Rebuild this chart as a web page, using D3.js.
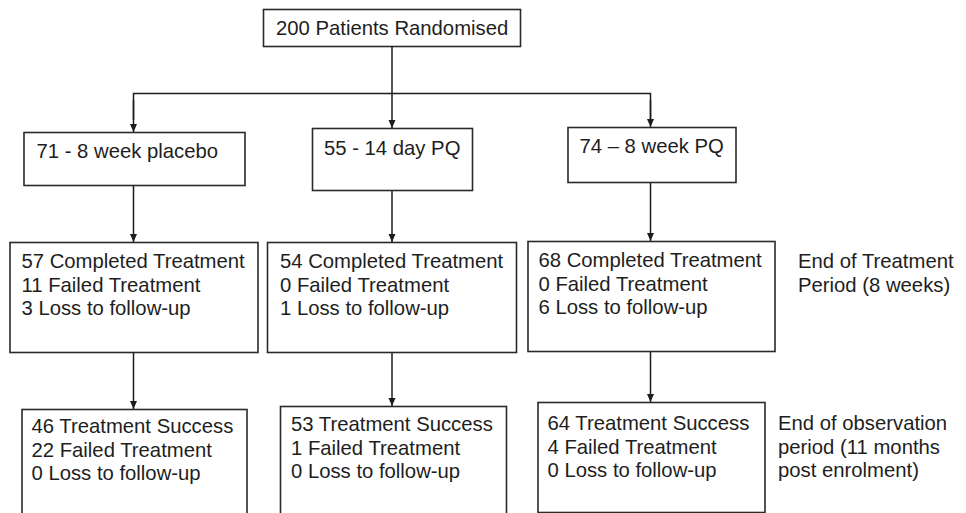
<!DOCTYPE html>
<html>
<head>
<meta charset="utf-8">
<script src="https://cdn.jsdelivr.net/npm/d3@7"></script>
<style>
  body { margin: 0; background: #fff; }
  text { font-family: "Liberation Sans", Arial, sans-serif; font-size: 20.3px; fill: #1e1e1e; }
</style>
</head>
<body>
<script>
// data
var total = 200;
var arms = ["71 - 8 week placebo", "55 - 14 day PQ", "74 \u2013 8 week PQ"];
var treatLabels = ["Completed Treatment", "Failed Treatment", "Loss to follow-up"];
var treatCounts = [[57, 11, 3], [54, 0, 1], [68, 0, 6]];
var obsLabels = ["Treatment Success", "Failed Treatment", "Loss to follow-up"];
var obsCounts = [[46, 22, 0], [53, 1, 0], [64, 4, 0]];
var stageNotes = [["End of Treatment", "Period (8 weeks)"], ["End of observation", "period (11 months", "post enrolment)"]];

// layout
var width = 966, height = 513;
var lineH = 23.5;
var x = d3.scalePoint().domain(arms).range([133.5, 650.5]);

// boxes per row, relative to column centre: [left, right, top, bottom, text pad, baseline]
var row1 = [[-110, 111, 132, 185, 13, 158], [-80, 80, 128, 190, 12, 155], [-83, 85, 127, 182, 12, 153]];
var row2 = [[-124, 124, 242, 352, 12, 268], [-125, 124, 242, 352, 13, 268], [-123, 124, 241, 351, 11, 267]];
var row3 = [[-112, 113, 409, 520, 10, 433], [-112, 114, 406, 520, 11, 431], [-113, 114, 402, 512, 10, 430]];

var svg = d3.select("body").append("svg")
    .attr("width", width)
    .attr("height", height);

svg.append("defs").append("marker")
    .attr("id", "arr")
    .attr("viewBox", "0 0 8 8")
    .attr("refX", 8).attr("refY", 4)
    .attr("markerWidth", 8).attr("markerHeight", 8)
    .attr("markerUnits", "userSpaceOnUse")
    .attr("orient", "auto")
    .append("path")
    .attr("d", "M0,0.5 L8,4 L0,7.5 Z")
    .attr("fill", "#1c1c1c");

function box(x0, x1, y0, y1) {
    svg.append("rect")
        .attr("x", x0 + 0.5).attr("y", y0 + 0.5)
        .attr("width", x1 - x0).attr("height", y1 - y0)
        .attr("fill", "#fff")
        .attr("stroke", "#2a2a2a")
        .attr("stroke-width", 1.6);
}

function lines(x0, y0, strs) {
    var t = svg.append("text").attr("x", x0).attr("y", y0);
    strs.forEach(function (s, i) {
        t.append("tspan").attr("x", x0).attr("dy", i == 0 ? 0 : lineH).text(s);
    });
}

function link(pts, arrow) {
    var p = svg.append("path")
        .attr("d", d3.line()(pts))
        .attr("fill", "none")
        .attr("stroke", "#1c1c1c")
        .attr("stroke-width", 1.5);
    if (arrow) p.attr("marker-end", "url(#arr)");
}

// top box
var topX = x(arms[1]);
box(263, 520, 9, 46);
svg.append("text").attr("x", 276).attr("y", 35).text(total + " Patients Randomised");

// connectors from top
link([[topX, 46], [topX, 128]], true);
link([[x(arms[0]), 120], [x(arms[0]), 93.5], [x(arms[2]), 93.5], [x(arms[2]), 120]], false);
link([[x(arms[0]), 100], [x(arms[0]), 132]], true);
link([[x(arms[2]), 100], [x(arms[2]), 127]], true);

arms.forEach(function (a, i) {
    var cx = x(a);
    var b1 = row1[i], b2 = row2[i], b3 = row3[i];
    link([[cx, b1[3]], [cx, b2[2]]], true);
    link([[cx, b2[3]], [cx, b3[2]]], true);

    box(cx + b1[0], cx + b1[1], b1[2], b1[3]);
    lines(cx + b1[0] + b1[4], b1[5], [a]);

    box(cx + b2[0], cx + b2[1], b2[2], b2[3]);
    lines(cx + b2[0] + b2[4], b2[5], treatCounts[i].map(function (v, j) { return v + " " + treatLabels[j]; }));

    box(cx + b3[0], cx + b3[1], b3[2], b3[3]);
    lines(cx + b3[0] + b3[4], b3[5], obsCounts[i].map(function (v, j) { return v + " " + obsLabels[j]; }));
});

lines(798, 268, stageNotes[0]);
lines(778, 430, stageNotes[1]);
</script>
</body>
</html>
